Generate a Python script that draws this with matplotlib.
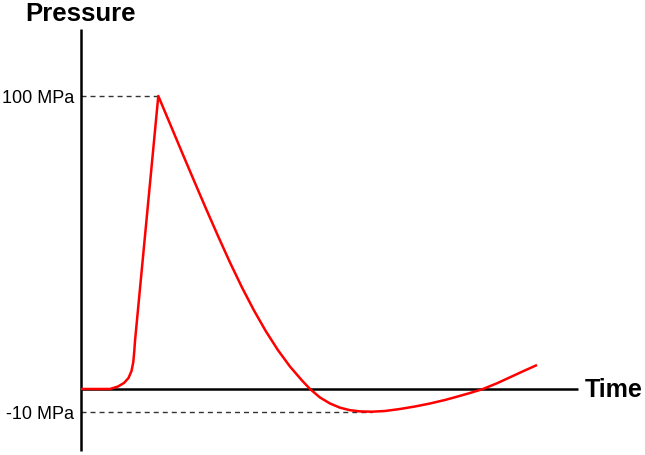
import matplotlib
matplotlib.use("Agg")
import matplotlib.pyplot as plt

plt.rcParams['font.family'] = ['Liberation Sans', 'DejaVu Sans']

# Schematic pressure pulse (time in arbitrary units, pressure in schematic MPa units)
time = [0.0, 2.9, 3.7, 4.3, 4.75, 5.05, 5.23, 5.33, 5.4, 7.73,
        8.9, 10.1, 11.3, 12.5, 13.7, 14.9, 16.1, 17.3, 18.5, 19.7, 20.9, 22.1, 22.9,
        23.9, 24.9, 25.9, 26.9, 27.9, 29.1, 30.4, 31.9, 33.4, 34.9, 36.4,
        37.6, 38.9, 40.2, 41.6, 42.9, 44.2, 45.6]
pressure = [0.0, 0.0, 0.85, 2.05, 3.75, 6.14, 9.22, 12.97, 16.38, 100.0,
            90.51, 80.75, 71.09, 61.54, 52.22, 43.17, 34.64, 26.79, 19.62, 13.24, 7.65, 2.90, 0.0,
            -2.90, -4.95, -6.38, -7.24, -7.65, -7.75, -7.51, -6.83, -5.97, -4.95, -3.75,
            -2.63, -1.37, 0.0, 1.95, 3.99, 6.04, 8.19]

peak_value = 100.0
min_value = -7.75
tick_values = [peak_value, min_value]
tick_labels = ["100 MPa", "-10 MPa"]
x_label = "Time"
y_label = "Pressure"

fig = plt.figure(figsize=(6.45, 4.56), dpi=100)
ax = fig.add_axes([0, 0, 1, 1])
ax.set_xlim(-8.1, 56.4)
ax.set_ylim(-22.53, 133.1)
ax.patch.set_visible(False)

for s in ['top', 'right']:
    ax.spines[s].set_visible(False)
ax.spines['left'].set_position(('data', 0))
ax.spines['bottom'].set_position(('data', 0))
ax.spines['left'].set_bounds(-21.2, 122.9)
ax.spines['bottom'].set_bounds(0, 49.7)
for s in ['left', 'bottom']:
    ax.spines[s].set_linewidth(1.8)
    ax.spines[s].set_color('black')
    ax.spines[s].set_capstyle('butt')

ax.set_xticks([])
ax.set_yticks(tick_values)
ax.set_yticklabels(tick_labels, fontsize=13)
ax.tick_params(axis='y', length=0, pad=5)

i_peak = pressure.index(peak_value)
i_min = pressure.index(min_value)
dash = (0, (3.6, 2.9))
ax.plot([0, time[i_peak]], [peak_value, peak_value], color='#333333', lw=1.0,
        linestyle=dash, dash_capstyle='butt')
ax.plot([0, time[i_min]], [min_value, min_value], color='#333333', lw=1.0,
        linestyle=dash, dash_capstyle='butt')

ax.plot(time, pressure, color='#ff0000', lw=1.8, solid_joinstyle='round',
        solid_capstyle='butt', zorder=3)

ax.text(0, 126.0, y_label, fontsize=18.5, fontweight='bold', ha='center', va='baseline')
ax.text(50.4, -2.5, x_label, fontsize=18, fontweight='bold', ha='left', va='baseline')

fig.savefig("out.png", dpi=100)
